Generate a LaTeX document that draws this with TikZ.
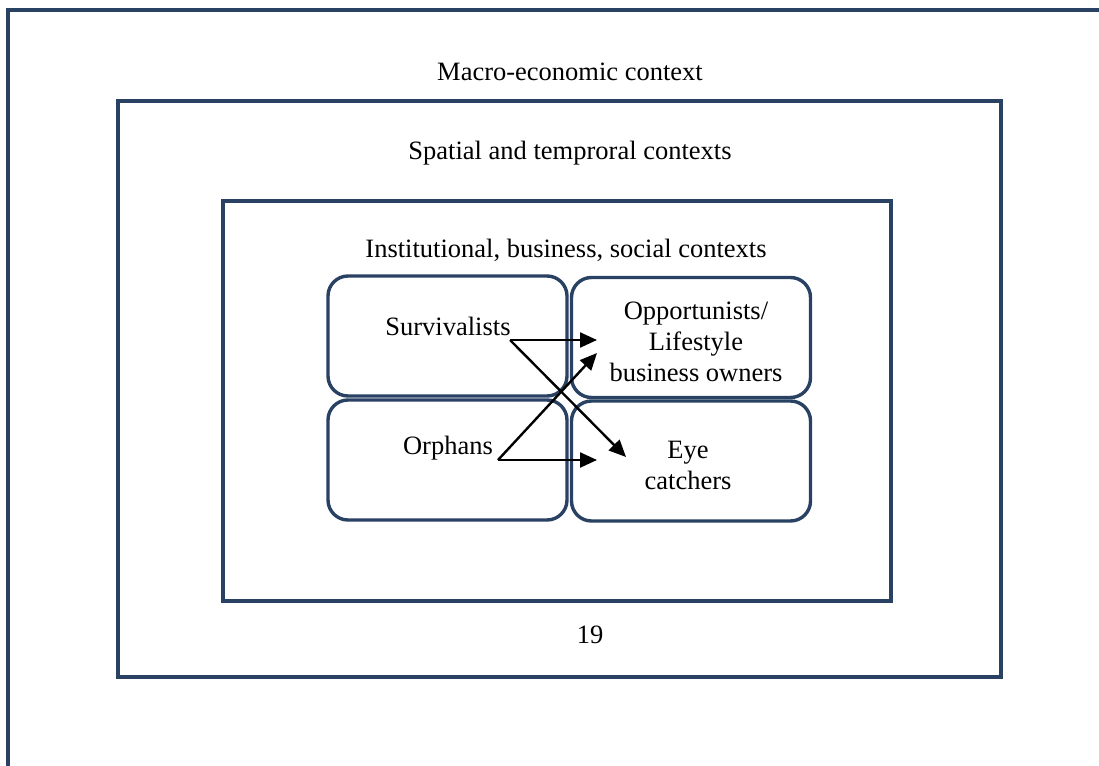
\documentclass[tikz,border=0pt]{standalone}
\usepackage{fontspec}
\setmainfont{Liberation Serif}
\usetikzlibrary{arrows.meta,positioning}
\definecolor{frameblue}{RGB}{41,65,98}
\tikzstyle{context}=[rectangle,draw=frameblue,line width=3.6pt,inner sep=0pt]
\tikzstyle{group}=[rectangle,rounded corners=20pt,draw=frameblue,line width=3.4pt,
minimum width=239pt,minimum height=120pt]
\tikzstyle{label}=[inner sep=0pt,align=center]

\begin{document}
\begin{tikzpicture}[x=1pt,y=-1pt,font=\fontsize{26.5}{31}\selectfont,
    >={Triangle[length=17pt,width=15pt]}]
    \useasboundingbox (0,0) rectangle (1099,765);
    \clip (0,0) rectangle (1099,765);

    % outer frame, only left and top edges show
    \draw[draw=frameblue,line width=3.6pt] (8,780) -- (8,10) -- (1110,10);

    \node[context,minimum width=883pt,minimum height=576pt] (spatialbox) at (559.5,389) {};
    \node[context,minimum width=668pt,minimum height=400pt] (instbox) at (557,401) {};

    \node[label] (macro) at (570,72) {Macro-economic context};
    \node[label] (spatial) at (570,153) {Spatial and temproral contexts};
    \node[label] (inst) at (566,250) {Institutional, business, social contexts};
    \node[label] (page) at (590,635) {19};

    \node[group] (survbox) at (447.5,336) {};
    \node[group] (orphbox) at (447.5,460) {};
    \node[group] (oppbox)  at (691,337.5) {};
    \node[group] (eyebox)  at (691,461) {};

    \node[label] (surv) at (448,326) {Survivalists};
    \node[label] (orph) at (448,448) {Orphans};
    \node[label] (opp)  at (696,342) {Opportunists/\\Lifestyle\\business owners};
    \node[label] (eye)  at (688,465) {Eye\\catchers};

    \coordinate (survout) at (510,340);
    \coordinate (orphout) at (498,460);
    \coordinate (oppin1) at (597,340);
    \coordinate (oppin2) at (597,353);
    \coordinate (eyein1) at (626,457);
    \coordinate (eyein2) at (597,460);

    \draw[->,line width=2.4pt] (survout) -- (oppin1);
    \draw[->,line width=2.4pt] (survout) -- (eyein1);
    \draw[->,line width=2.4pt] (orphout) -- (oppin2);
    \draw[->,line width=2.4pt] (orphout) -- (eyein2);
\end{tikzpicture}
\end{document}
